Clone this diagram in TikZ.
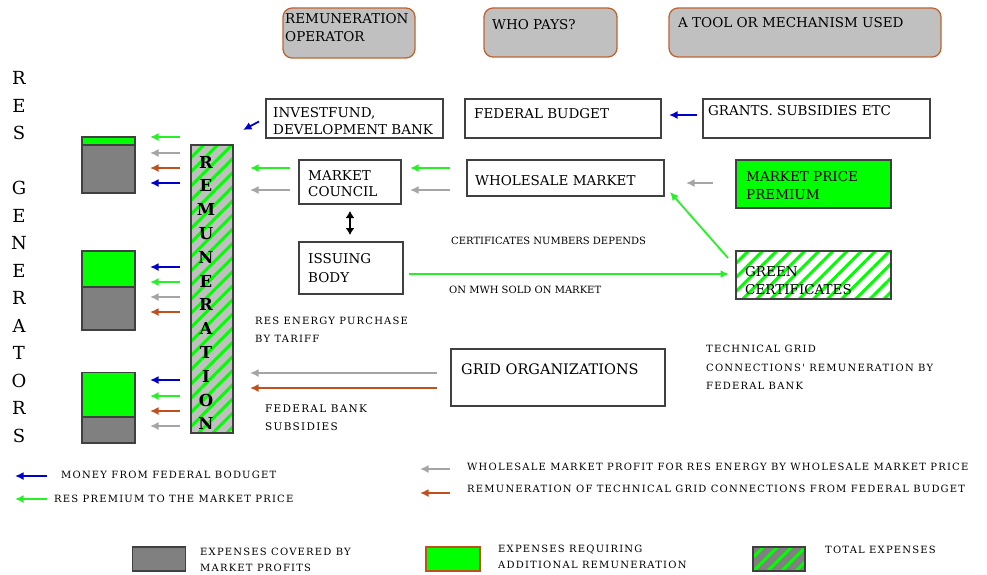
\documentclass[tikz,border=0pt]{standalone}
\usepackage{fontspec}
\setmainfont{DejaVu Serif}
\newfontfamily\widefont[LetterSpace=12]{DejaVu Serif}
\usetikzlibrary{arrows.meta,patterns.meta}
\definecolor{cgreen}{RGB}{0,255,0}
\definecolor{agreen}{RGB}{40,240,40}
\definecolor{cblue}{RGB}{0,0,204}
\definecolor{cbrown}{RGB}{192,80,30}
\definecolor{cgray}{RGB}{165,165,165}
\definecolor{barg}{RGB}{128,128,128}
\definecolor{hfill}{RGB}{192,192,192}
\definecolor{hbrd}{RGB}{190,100,50}
\begin{document}
\begin{tikzpicture}[x=1pt,y=-1pt,
  box/.style={draw=black!75,line width=1.3pt,inner sep=0pt,fill=white},
  hdr/.style={draw=hbrd,line width=1.3pt,fill=hfill,rounded corners=9pt,inner sep=0pt},
  barbox/.style={draw=black!75,line width=1.2pt,inner sep=0pt,minimum width=53pt},
  bt/.style={font=\fontsize{13.5}{17}\selectfont,align=left,inner sep=0pt,anchor=north west},
  st/.style={font=\fontsize{10}{18}\selectfont,align=left,inner sep=0pt,anchor=north west},
  wt/.style={font=\widefont\fontsize{10}{18}\selectfont,align=left,inner sep=0pt,anchor=north west},
  lt/.style={font=\widefont\fontsize{10}{12}\selectfont,inner sep=0pt,anchor=west},
  arr/.style={line width=1.8pt,-{Latex[length=8.5pt,width=8pt]}},
  hatch/.style={preaction={fill=#1},pattern={Lines[angle=45,distance=10pt,line width=3pt]},pattern color=cgreen},
]
\useasboundingbox (0,0) rectangle (987,575);

% header boxes
\node[hdr,minimum width=132pt,minimum height=50pt] (h1) at (349,33) {};
\node[hdr,minimum width=133pt,minimum height=49pt] (h2) at (550.5,32.5) {};
\node[hdr,minimum width=272pt,minimum height=49pt] (h3) at (805,32.5) {};
\node[bt,font=\fontsize{13.5}{18}\selectfont] (h1t) at (285,13) {REMUNERATION\\OPERATOR};
\node[bt] (h2t) at (492,19) {WHO PAYS?};
\node[bt] (h3t) at (678,17) {A TOOL OR MECHANISM USED};

% RES GENERATORS
\foreach \l/\y [count=\i] in {R/78,E/105.5,S/133,G/188,E/215.5,N/243,E/270.5,R/298,A/325.5,T/353,O/380.5,R/408,S/435.5}
  \node[font=\fontsize{18}{18}\selectfont,inner sep=0pt] (g\i) at (19,\y) {\l};

% stacked bars
\node[barbox,fill=cgreen,minimum height=8pt] (b1g) at (108.5,141) {};
\node[barbox,fill=barg,minimum height=48pt] (b1r) at (108.5,169) {};
\node[barbox,fill=cgreen,minimum height=36pt] (b2g) at (108.5,269) {};
\node[barbox,fill=barg,minimum height=43pt] (b2r) at (108.5,308.5) {};
\node[barbox,fill=cgreen,minimum height=45pt] (b3g) at (108.5,395) {};
\node[barbox,fill=barg,minimum height=26pt] (b3r) at (108.5,430) {};

\foreach \y/\c [count=\i] in {137/agreen,153/cgray,168/cbrown,183/cblue,267/cblue,282/agreen,297/cgray,312/cbrown,380/cblue,396/agreen,411/cbrown,426/cgray}{
  \coordinate (s\i) at (180,\y);
  \coordinate (e\i) at (150,\y);
  \draw[arr,\c] (s\i) -- (e\i);
}

% remuneration bar
\node[draw=black!75,line width=1.2pt,hatch=hfill,minimum width=42pt,minimum height=288pt,inner sep=0pt] (rem) at (212,289) {};
\foreach \l [count=\i] in {R,E,M,U,N,E,R,A,T,I,O,N}
  \node[font=\fontsize{16.5}{16}\selectfont\bfseries,inner sep=0pt] (r\i) at (206,{162+(\i-1)*23.8}) {\l};

% boxes
\node[box,minimum width=177pt,minimum height=39pt] (inv) at (354.5,118.5) {};
\node[bt] (invt) at (273,107) {INVESTFUND,\\DEVELOPMENT BANK};
\node[box,minimum width=196pt,minimum height=39pt] (fed) at (563,118.5) {};
\node[bt] (fedt) at (474,108) {FEDERAL BUDGET};
\node[box,minimum width=227pt,minimum height=39pt] (gr) at (816.5,118.5) {};
\node[bt] (grt) at (708,105) {GRANTS. SUBSIDIES ETC};
\node[box,minimum width=102pt,minimum height=44pt] (mc) at (350,182) {};
\node[bt,font=\fontsize{13.5}{16}\selectfont] (mct) at (308,170) {MARKET\\COUNCIL};
\node[box,minimum width=197pt,minimum height=36pt] (wm) at (565.5,178) {};
\node[bt] (wmt) at (475,175) {WHOLESALE MARKET};
\node[box,fill=cgreen,minimum width=155pt,minimum height=48pt] (mpp) at (813.5,184) {};
\node[bt,font=\fontsize{13.5}{18}\selectfont] (mppt) at (746,171) {MARKET PRICE\\PREMIUM};
\node[box,minimum width=104pt,minimum height=52pt] (ib) at (351,268) {};
\node[bt,font=\fontsize{13.5}{19}\selectfont] (ibt) at (308,253) {ISSUING\\BODY};
\node[draw=black!75,line width=1.3pt,inner sep=0pt,hatch=white,minimum width=155pt,minimum height=48pt] (gc) at (813.5,275) {};
\node[bt,font=\fontsize{13.5}{18}\selectfont] (gct) at (745,266) {GREEN\\CERTIFICATES};
\node[box,minimum width=214pt,minimum height=57pt] (go) at (558,377.5) {};
\node[bt,font=\fontsize{14.5}{17}\selectfont] (got) at (461,364) {GRID ORGANIZATIONS};

% connectors
\coordinate (c1s) at (259,121.5); \coordinate (c1e) at (243,130);
\draw[arr,cblue] (c1s) -- (c1e);
\coordinate (c2s) at (697,115); \coordinate (c2e) at (669,115);
\draw[arr,cblue] (c2s) -- (c2e);
\coordinate (c3s) at (290,168); \coordinate (c3e) at (250,168);
\draw[arr,agreen] (c3s) -- (c3e);
\coordinate (c4s) at (290,190); \coordinate (c4e) at (250,190);
\draw[arr,cgray] (c4s) -- (c4e);
\coordinate (c5s) at (450,168); \coordinate (c5e) at (410,168);
\draw[arr,agreen] (c5s) -- (c5e);
\coordinate (c6s) at (450,190); \coordinate (c6e) at (410,190);
\draw[arr,cgray] (c6s) -- (c6e);
\coordinate (c7s) at (713,183); \coordinate (c7e) at (686,183);
\draw[arr,cgray] (c7s) -- (c7e);
\coordinate (c8s) at (728,258); \coordinate (c8e) at (670,192);
\draw[arr,agreen] (c8s) -- (c8e);
\coordinate (c9s) at (409,274); \coordinate (c9e) at (729,274);
\draw[arr,agreen] (c9s) -- (c9e);
\coordinate (c10s) at (350,211); \coordinate (c10e) at (350,235);
\draw[line width=1.6pt,{Latex[length=7pt,width=9pt]}-{Latex[length=7pt,width=9pt]}] (c10s) -- (c10e);
\coordinate (c11s) at (437,373); \coordinate (c11e) at (250,373);
\draw[arr,cgray] (c11s) -- (c11e);
\coordinate (c12s) at (437,388); \coordinate (c12e) at (250,388);
\draw[arr,cbrown] (c12s) -- (c12e);

% annotations
\node[st] (a1) at (451,237) {CERTIFICATES NUMBERS DEPENDS};
\node[st] (a2) at (449,286) {ON MWH SOLD ON MARKET};
\node[wt,font=\widefont\fontsize{10}{18}\selectfont] (a3) at (255,317) {RES ENERGY PURCHASE\\BY TARIFF};
\node[wt,font=\widefont\fontsize{10.5}{17.5}\selectfont] (a4) at (265,405) {FEDERAL BANK\\SUBSIDIES};
\node[wt,font=\widefont\fontsize{10}{18.5}\selectfont] (a5) at (706,345) {TECHNICAL GRID\\CONNECTIONS' REMUNERATION BY\\FEDERAL BANK};

% legend
\coordinate (l1s) at (47,476); \coordinate (l1e) at (15,476);
\draw[arr,cblue] (l1s) -- (l1e);
\node[lt] (l1t) at (61,475) {MONEY FROM FEDERAL BODUGET};
\coordinate (l2s) at (47,499); \coordinate (l2e) at (15,499);
\draw[arr,agreen] (l2s) -- (l2e);
\node[lt] (l2t) at (54,499) {RES PREMIUM TO THE MARKET PRICE};
\coordinate (l3s) at (450,469); \coordinate (l3e) at (420,469);
\draw[arr,cgray] (l3s) -- (l3e);
\node[lt] (l3t) at (467,467) {WHOLESALE MARKET PROFIT FOR RES ENERGY BY WHOLESALE MARKET PRICE};
\coordinate (l4s) at (450,493); \coordinate (l4e) at (420,493);
\draw[arr,cbrown] (l4s) -- (l4e);
\node[lt] (l4t) at (467,489) {REMUNERATION OF TECHNICAL GRID CONNECTIONS FROM FEDERAL BUDGET};

\node[draw=black!75,line width=1.3pt,fill=barg,minimum width=53pt,minimum height=24pt,inner sep=0pt] (k1) at (159,559) {};
\node[wt,font=\widefont\fontsize{10}{16}\selectfont] (k1t) at (200,548) {EXPENSES COVERED BY\\MARKET PROFITS};
\node[draw=cbrown,line width=1.3pt,fill=cgreen,minimum width=54pt,minimum height=24pt,inner sep=0pt] (k2) at (453,559) {};
\node[wt,font=\widefont\fontsize{10}{16}\selectfont] (k2t) at (498,545) {EXPENSES REQUIRING\\ADDITIONAL REMUNERATION};
\node[draw=black!75,line width=1.3pt,hatch=barg,minimum width=52pt,minimum height=24pt,inner sep=0pt] (k3) at (779,559) {};
\node[wt] (k3t) at (825,546) {TOTAL EXPENSES};
\end{tikzpicture}
\end{document}
